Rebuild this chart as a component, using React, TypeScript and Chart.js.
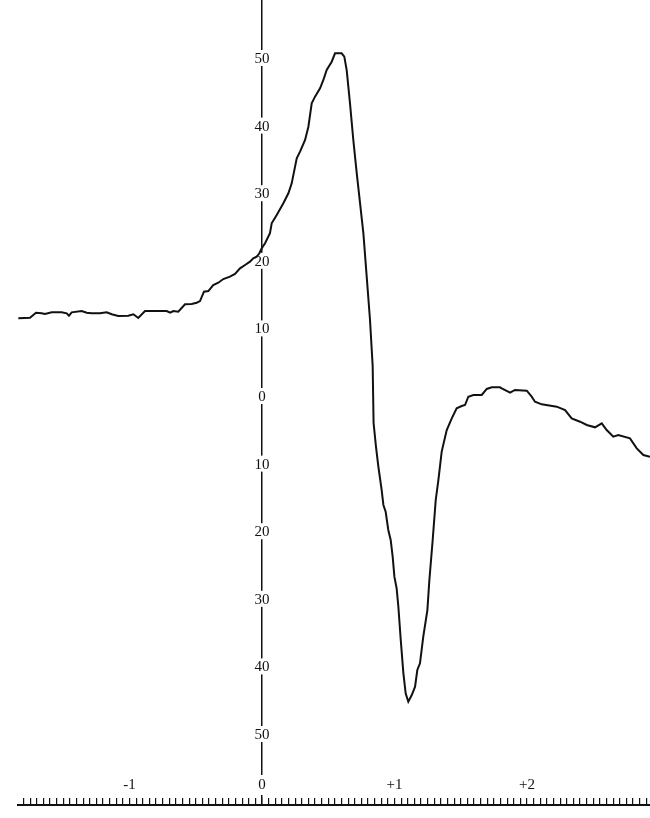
import React, { useEffect, useRef } from 'react';
import Chart from 'chart.js/auto';

// curve (x in ruler units, y in axis units)
const xValues = [
  -1.839, -1.751, -1.706, -1.663, -1.638, -1.587, -1.512, -1.474, -1.457, -1.436,
  -1.361, -1.323, -1.285, -1.223, -1.172, -1.134, -1.085, -1.009, -0.971, -0.953,
  -0.934, -0.883, -0.719, -0.694, -0.669, -0.632, -0.581, -0.531, -0.493, -0.468,
  -0.438, -0.405, -0.368, -0.33, -0.292, -0.242, -0.204, -0.166, -0.128, -0.091,
  -0.066, -0.04, -0.02, -0.002, 0.023, 0.06, 0.073, 0.111, 0.161, 0.199,
  0.224, 0.262, 0.287, 0.325, 0.35, 0.375, 0.4, 0.438, 0.463, 0.488,
  0.526, 0.551, 0.601, 0.621, 0.639, 0.664, 0.689, 0.715, 0.74, 0.765,
  0.79, 0.815, 0.835, 0.842, 0.86, 0.878, 0.903, 0.916, 0.933, 0.953,
  0.971, 0.986, 0.999, 1.016, 1.029, 1.047, 1.067, 1.084, 1.104, 1.13,
  1.155, 1.172, 1.192, 1.217, 1.248, 1.263, 1.288, 1.311, 1.331, 1.356,
  1.394, 1.432, 1.469, 1.507, 1.532, 1.557, 1.595, 1.658, 1.696, 1.734,
  1.796, 1.809, 1.872, 1.909, 1.998, 2.035, 2.06, 2.111, 2.224, 2.287,
  2.337, 2.4, 2.451, 2.513, 2.564, 2.601, 2.651, 2.689, 2.777, 2.828,
  2.878, 2.928,
];
const yValues = [
  11.49, 11.58, 12.32, 12.23, 12.13, 12.38, 12.38, 12.23, 11.88, 12.38,
  12.57, 12.32, 12.23, 12.23, 12.38, 12.09, 11.83, 11.88, 12.09, 11.83,
  11.54, 12.57, 12.57, 12.32, 12.57, 12.47, 13.56, 13.61, 13.8, 14.05,
  15.43, 15.53, 16.42, 16.76, 17.3, 17.65, 18.05, 18.89, 19.38, 19.87,
  20.37, 20.61, 21.11, 21.85, 22.59, 24.07, 25.55, 26.78, 28.51, 29.99,
  31.46, 35.16, 36.14, 37.87, 39.84, 43.3, 44.28, 45.52, 46.75, 48.22,
  49.45, 50.69, 50.69, 50.2, 48.22, 43.3, 37.87, 32.94, 28.51, 24.07,
  17.65, 11.24, 4.5, -4.0, -7.5, -10.45, -13.91, -16.12, -17.11, -19.82,
  -21.3, -23.77, -26.73, -28.45, -31.17, -36.09, -41.02, -43.98, -45.22, -44.23,
  -43.0, -40.53, -39.54, -35.6, -31.66, -27.22, -21.3, -15.38, -12.43, -8.23,
  -5.03, -3.3, -1.82, -1.48, -1.33, -0.1, 0.15, 0.15, 1.04, 1.29,
  1.29, 1.14, 0.49, 0.89, 0.79, -0.1, -0.84, -1.23, -1.58, -2.07,
  -3.3, -3.8, -4.29, -4.63, -4.04, -5.03, -6.02, -5.77, -6.26, -7.74,
  -8.73, -9.0,
];

const yTickValues = [-50, -40, -30, -20, -10, 0, 10, 20, 30, 40, 50];
const xLabelValues = [-1, 0, 1, 2];
const xLabelTexts = ['-1', '0', '+1', '+2'];

const SERIF = '"Liberation Serif", "Times New Roman", serif';
const INK = '#111';

const xLabelFor = (v: number) => {
  const i = xLabelValues.findIndex((l) => Math.abs(l - v) < 1e-6);
  return i >= 0 ? xLabelTexts[i] : '';
};

// y labels sit centred on the axis line with a white patch behind them
const centredYLabels = {
  id: 'centredYLabels',
  beforeDatasetsDraw(chart: any) {
    const { ctx, scales } = chart;
    const x0 = scales.x.getPixelForValue(0);
    ctx.save();
    ctx.font = `15px ${SERIF}`;
    ctx.textAlign = 'center';
    ctx.textBaseline = 'middle';
    scales.y.ticks.forEach((t: any) => {
      const py = scales.y.getPixelForValue(t.value);
      const label = String(Math.abs(t.value));
      const w = ctx.measureText(label).width;
      ctx.fillStyle = '#fff';
      ctx.fillRect(x0 - w / 2 - 1, py - 8, w + 2, 16);
      ctx.fillStyle = INK;
      ctx.fillText(label, x0, py + 1);
    });
    ctx.restore();
  },
};

const App: React.FC = () => {
  const canvasRef = useRef<HTMLCanvasElement | null>(null);
  const chartInstance = useRef<Chart | null>(null);

  useEffect(() => {
    const ctx = canvasRef.current?.getContext('2d');
    if (!ctx) return;
    if (chartInstance.current) chartInstance.current.destroy();

    //@ts-ignore
    chartInstance.current = new Chart(ctx, {
      type: 'line',
      data: {
        datasets: [
          {
            data: xValues.map((x, i) => ({ x, y: yValues[i] })),
            borderColor: INK,
            borderWidth: 2,
            pointRadius: 0,
            tension: 0,
            fill: false,
          },
        ],
      },
      options: {
        animation: false,
        responsive: false,
        events: [],
        layout: { padding: { left: 18, right: 0, top: 0, bottom: 0 } },
        plugins: { legend: { display: false }, tooltip: { enabled: false } },
        scales: {
          y: {
            type: 'linear',
            position: { x: 0 },
            min: -60.5,
            max: 58.58,
            afterBuildTicks: (s: any) => {
              s.ticks = yTickValues.map((value) => ({ value }));
            },
            afterFit: (s: any) => {
              s.width = 0;
            },
            ticks: { display: false },
            grid: { display: false, drawTicks: false },
            border: { display: true, color: INK, width: 1.5 },
          },
          x: {
            type: 'linear',
            position: 'bottom',
            min: -1.8415,
            max: 2.928,
            afterFit: (s: any) => {
              // ruler sits on the bottom edge; no extra side padding
              s.height = 13;
              s.paddingLeft = 0;
              s.paddingRight = 0;
            },
            ticks: {
              stepSize: 0.05,
              includeBounds: false,
              autoSkip: false,
              maxRotation: 0,
              minRotation: 0,
              mirror: true,
              padding: 11,
              color: INK,
              font: { family: SERIF, size: 15 },
              callback: (v: any) => xLabelFor(Number(v)),
              showLabelBackdrop: (c: any) => xLabelFor(c.tick.value) !== '',
              backdropColor: '#fff',
              backdropPadding: 1,
            },
            grid: {
              display: true,
              drawOnChartArea: false,
              drawTicks: true,
              tickLength: -7,
              color: INK,
              lineWidth: 1.2,
            },
            border: { display: true, color: INK, width: 2 },
          },
        },
      },
      plugins: [centredYLabels],
    });

    return () => {
      if (chartInstance.current) {
        chartInstance.current.destroy();
        chartInstance.current = null;
      }
    };
  }, []);

  return (
    <div style={{ position: 'absolute', left: 0, top: 0, width: 650, height: 818, background: '#fff' }}>
      <canvas ref={canvasRef} width={650} height={818} />
    </div>
  );
};

export default App;
